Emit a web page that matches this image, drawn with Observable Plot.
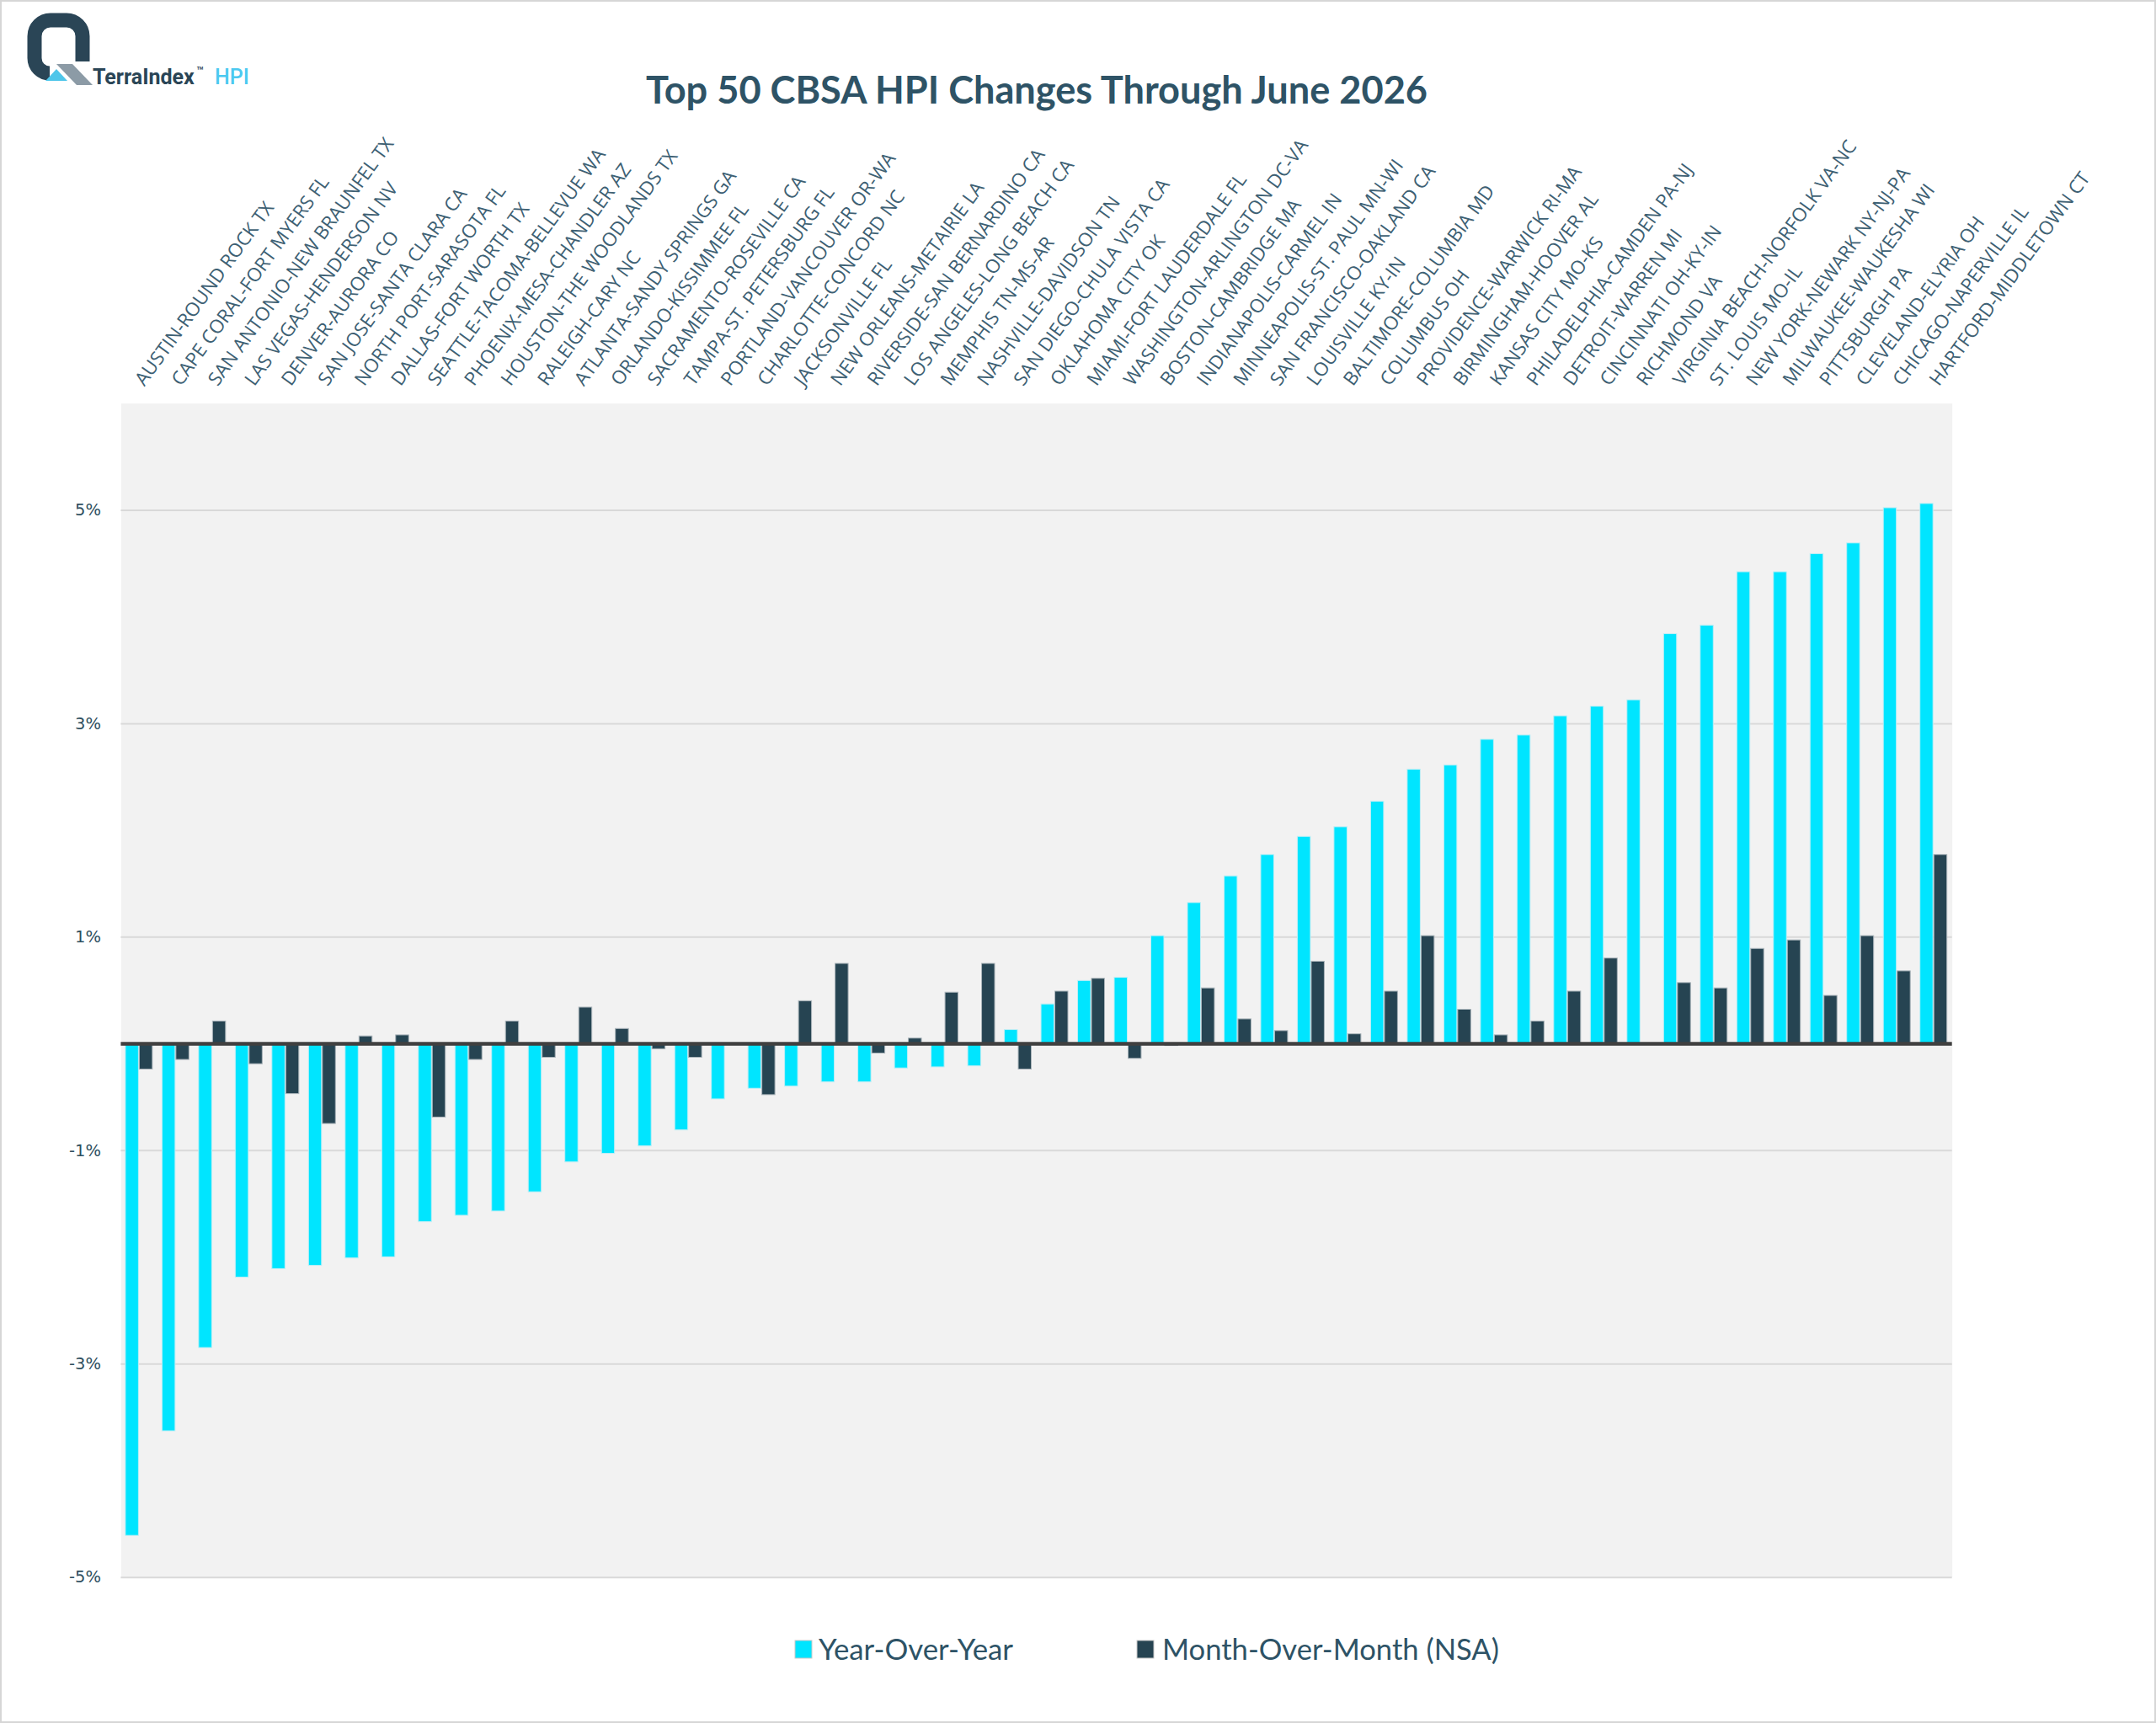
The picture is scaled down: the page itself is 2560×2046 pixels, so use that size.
<!DOCTYPE html>
<html>
<head>
<meta charset="utf-8">
<script src="https://cdn.jsdelivr.net/npm/d3@7"></script>
<script src="https://cdn.jsdelivr.net/npm/@observablehq/plot@0.6"></script>
<style>
  html, body { margin: 0; padding: 0; background: #fff; }
  #page { position: relative; width: 2560px; height: 2046px; box-sizing: border-box;
          border: 2px solid #d6d6d6; overflow: hidden; background: #fff; }
  #header { position: absolute; left: -2px; top: -2px; }
  #chart { position: absolute; left: -2px; top: 138px; }
  #legend { position: absolute; left: -2px; top: 1898px; }
</style>
</head>
<body>
<div id="page">
  <svg id="header" width="2560" height="140" xmlns="http://www.w3.org/2000/svg">
    <!-- logo -->
    <path d="M 59 87 A 18 18 0 0 1 41 69 V 43 A 19 19 0 0 1 60 24 H 79 A 19 19 0 0 1 98 43 V 73"
          fill="none" stroke="#2a4556" stroke-width="17"/>
    <polygon points="67,76 86,76 110,101 91,101" fill="#8c9ba6"/>
    <polygon points="54,96 80,96 67,82" fill="#4fc6ea"/>
    <text x="110" y="100" font-family="Roboto" font-weight="700" font-size="25" fill="#2a4556">TerraIndex</text>
    <text x="233" y="89" font-family="Roboto" font-weight="500" font-size="14" fill="#2a4556">™</text>
    <text x="255" y="100" font-family="Roboto" font-weight="500" font-size="25" fill="#4cc9f0">HPI</text>
    <!-- title -->
    <text id="title" x="1231" y="123" text-anchor="middle" font-family="Lato" font-weight="700"
          font-size="46" fill="#2e5366" textLength="928" lengthAdjust="spacingAndGlyphs">Top 50 CBSA HPI Changes Through June 2026</text>
  </svg>
  <div id="chart"></div>
  <svg id="legend" width="2560" height="100" xmlns="http://www.w3.org/2000/svg"></svg>
</div>
<script>
// ---------- data ----------
const categories = [
  "AUSTIN-ROUND ROCK TX", "CAPE CORAL-FORT MYERS FL", "SAN ANTONIO-NEW BRAUNFEL TX",
  "LAS VEGAS-HENDERSON NV", "DENVER-AURORA CO", "SAN JOSE-SANTA CLARA CA",
  "NORTH PORT-SARASOTA FL", "DALLAS-FORT WORTH TX", "SEATTLE-TACOMA-BELLEVUE WA",
  "PHOENIX-MESA-CHANDLER AZ", "HOUSTON-THE WOODLANDS TX", "RALEIGH-CARY NC",
  "ATLANTA-SANDY SPRINGS GA", "ORLANDO-KISSIMMEE FL", "SACRAMENTO-ROSEVILLE CA",
  "TAMPA-ST. PETERSBURG FL", "PORTLAND-VANCOUVER OR-WA", "CHARLOTTE-CONCORD NC",
  "JACKSONVILLE FL", "NEW ORLEANS-METAIRIE LA", "RIVERSIDE-SAN BERNARDINO CA",
  "LOS ANGELES-LONG BEACH CA", "MEMPHIS TN-MS-AR", "NASHVILLE-DAVIDSON TN",
  "SAN DIEGO-CHULA VISTA CA", "OKLAHOMA CITY OK", "MIAMI-FORT LAUDERDALE FL",
  "WASHINGTON-ARLINGTON DC-VA", "BOSTON-CAMBRIDGE MA", "INDIANAPOLIS-CARMEL IN",
  "MINNEAPOLIS-ST. PAUL MN-WI", "SAN FRANCISCO-OAKLAND CA", "LOUISVILLE KY-IN",
  "BALTIMORE-COLUMBIA MD", "COLUMBUS OH", "PROVIDENCE-WARWICK RI-MA",
  "BIRMINGHAM-HOOVER AL", "KANSAS CITY MO-KS", "PHILADELPHIA-CAMDEN PA-NJ",
  "DETROIT-WARREN MI", "CINCINNATI OH-KY-IN", "RICHMOND VA",
  "VIRGINIA BEACH-NORFOLK VA-NC", "ST. LOUIS MO-IL", "NEW YORK-NEWARK NY-NJ-PA",
  "MILWAUKEE-WAUKESHA WI", "PITTSBURGH PA", "CLEVELAND-ELYRIA OH",
  "CHICAGO-NAPERVILLE IL", "HARTFORD-MIDDLETOWN CT"
];
const yoy = [
  -4.61, -3.63, -2.85, -2.19, -2.11, -2.08, -2.01, -2.00, -1.67, -1.61,
  -1.57, -1.39, -1.11, -1.03, -0.96, -0.81, -0.52, -0.42, -0.40, -0.36,
  -0.36, -0.23, -0.22, -0.21, 0.13, 0.37, 0.59, 0.62, 1.01, 1.32,
  1.57, 1.77, 1.94, 2.03, 2.27, 2.57, 2.61, 2.85, 2.89, 3.07,
  3.16, 3.22, 3.84, 3.92, 4.42, 4.42, 4.59, 4.69, 5.02, 5.06
];
const mom = [
  -0.24, -0.15, 0.21, -0.19, -0.47, -0.75, 0.07, 0.08, -0.69, -0.15,
  0.21, -0.13, 0.34, 0.14, -0.05, -0.13, 0.00, -0.48, 0.40, 0.75,
  -0.09, 0.05, 0.48, 0.75, -0.24, 0.49, 0.61, -0.14, -0.02, 0.52,
  0.23, 0.12, 0.77, 0.09, 0.49, 1.01, 0.32, 0.08, 0.21, 0.49,
  0.80, 0.00, 0.57, 0.52, 0.89, 0.97, 0.45, 1.01, 0.68, 1.77
];
const seriesNames = ["Year-Over-Year", "Month-Over-Month (NSA)"];
const seriesColors = ["#00E5FF", "#264452"];
const yTicks = [-5, -3, -1, 1, 3, 5];
const yDomain = [-5, 6];

// ---------- layout ----------
const W = 2560, H = 1735;
const mL = 143.5, mR = 240.5, mT = 339, mB = 1;
const band = (W - mL - mR) / categories.length;

const table = categories.map((c, i) => ({cbsa: c, yoy: yoy[i], mom: mom[i]}));

const chart = Plot.plot({
  width: W, height: H,
  marginLeft: mL, marginRight: mR, marginTop: mT, marginBottom: mB,
  style: {background: "transparent", fontFamily: "Open Sans", overflow: "visible"},
  x: {domain: categories, padding: 0, round: false, axis: null},
  y: {domain: yDomain, axis: null},
  marks: [
    Plot.frame({fill: "#f2f2f2", stroke: "none"}),
    Plot.ruleY(yTicks, {stroke: "#d9d9d9", strokeWidth: 2}),
    Plot.barY(table, {x: "cbsa", y: "yoy", fill: seriesColors[0], stroke: "#bfeef5", strokeWidth: 1,
      insetLeft: 5.5, insetRight: band - 21}),
    Plot.barY(table, {x: "cbsa", y: "mom", fill: seriesColors[1], stroke: "#aab4ba", strokeWidth: 1,
      insetLeft: 22, insetRight: band - 37.5}),
    Plot.ruleY([0], {stroke: "#404040", strokeWidth: 4.5}),
    Plot.axisY({ticks: yTicks, tickFormat: d => `${d}%`, tickSize: 0, tickPadding: 24,
      fontSize: 19.5, fontFamily: "DejaVu Sans", fill: "#2f4f60", label: null}),
    Plot.axisX({anchor: "top", tickRotate: -54, tickSize: 0, tickPadding: 24, textAnchor: "start",
      lineAnchor: "middle", fontSize: 22.5, fontFamily: "Open Sans", fill: "#3d6073", label: null})
  ]
});
document.getElementById("chart").appendChild(chart);

// ---------- legend ----------
const legendLayout = [
  {sx: 944, tx: 972, len: 231},
  {sx: 1350, tx: 1380, len: 400}
];
const lg = d3.select("#legend");
seriesNames.forEach((name, i) => {
  const L = legendLayout[i];
  lg.append("rect").attr("x", L.sx).attr("y", 48).attr("width", 20).attr("height", 21)
    .attr("fill", seriesColors[i]).attr("stroke", "#c8c8c8").attr("stroke-width", 1);
  lg.append("text").attr("x", L.tx).attr("y", 71)
    .attr("font-family", "Lato").attr("font-size", 35).attr("fill", "#2e5366")
    .attr("textLength", L.len).attr("lengthAdjust", "spacingAndGlyphs")
    .text(name);
});
</script>
</body>
</html>
